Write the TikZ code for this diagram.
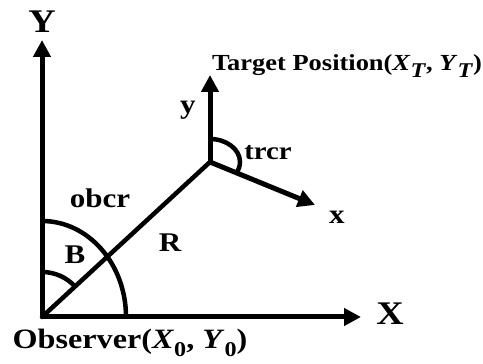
\documentclass[tikz,border=0pt]{standalone}
\usepackage{fontspec}
\setmainfont{Liberation Serif}[FakeStretch=1.15]
\usetikzlibrary{arrows.meta}

\newcommand{\lowsub}[1]{\raisebox{-0.3em}{\fontsize{21}{24}\selectfont #1}}

\begin{document}
\begin{tikzpicture}[
    x=1pt, y=1pt,
    axis/.style={-{Triangle[length=17pt,width=17pt]}, line width=5pt},
    arcline/.style={line width=4.5pt},
    label/.style={font=\fontsize{27}{30}\selectfont\bfseries, inner sep=0pt},
    big/.style={font=\fontsize{33}{38}\selectfont\bfseries, inner sep=0pt}
  ]
  \useasboundingbox (0,0) rectangle (483,364);

  % ---- Points ----
  \coordinate (obs) at (42,47);
  \coordinate (tgt) at (210,202);
  \coordinate (ytip) at (42,324);
  \coordinate (xtip) at (361,47);
  \coordinate (tytip) at (210,289);
  \coordinate (txtip) at (315,159);

  % ---- Observer frame ----
  \draw[axis] (obs) -- (ytip);
  \draw[axis] (obs) -- (xtip);
  \node[big] (ylab) at (42,342) {Y};
  \node[big] (xlab) at (390,50) {X};
  \node[label, font=\fontsize{28}{30}\selectfont\bfseries] (obslab) at (130,21)
    {Observer(\textit{X}\lowsub{0}, \textit{Y}\lowsub{0})};

  % ---- Line of sight ----
  \draw[arcline, line cap=round] (obs) -- (tgt);
  \node[label] (rlab) at (170,121) {R};

  % Arcs at observer
  \draw[arcline] (obs) ++(84,0) arc[start angle=0, end angle=90, x radius=84, y radius=96];
  \draw[arcline] (obs) ++(0,45) arc[start angle=90, end angle=42.7, radius=45];
  \node[label] (obcr) at (100,166) {obcr};
  \node[label] (blab) at (75,109) {B};

  % ---- Target frame ----
  \draw[axis] (tgt) -- (tytip);
  \draw[axis] (tgt) -- (txtip);
  \draw[arcline] (tgt) ++(0,23) arc[start angle=90, end angle=-28, x radius=30, y radius=23];
  \node[label] (tylab) at (188,254) {y};
  \node[label] (txlab) at (337,147) {x};
  \node[label, font=\fontsize{25}{28}\selectfont\bfseries] (trcr) at (268,211) {trcr};
  \node[label, font=\fontsize{23}{28}\selectfont\bfseries] (tgtlab) at (347,298)
    {Target Position(\textit{X}\lowsub{\textit{T}}, \textit{Y}\lowsub{\textit{T}})};
\end{tikzpicture}
\end{document}
